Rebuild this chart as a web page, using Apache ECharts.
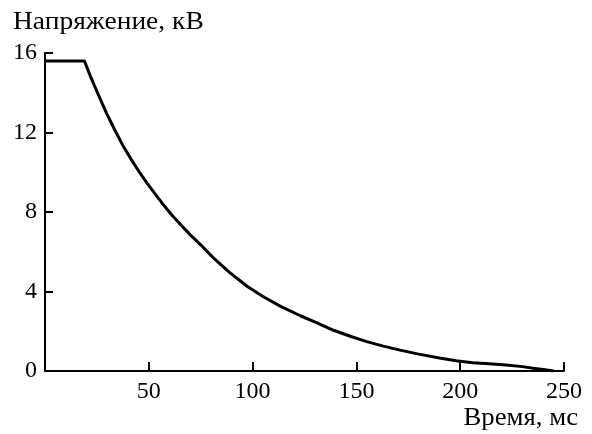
<!DOCTYPE html>
<html>
<head>
<meta charset="utf-8">
<script src="https://cdn.jsdelivr.net/npm/echarts@6/dist/echarts.min.js"></script>
<style>
html,body{margin:0;padding:0;background:#fff;}
#chart{width:592px;height:434px;}
</style>
</head>
<body>
<div id="chart"></div>
<script>
// Time, ms
var times = [0, 19, 22, 25.5, 29.5, 33.5, 37.5, 41.5, 45.5, 49.5, 53.5, 57.5, 61.5, 65.5, 70, 75, 81.5, 89, 97.5, 105, 113.5, 123, 131, 139, 147, 155, 163, 171, 180, 190, 198, 206, 214, 222, 230, 235, 240, 245];
// Voltage, kV
var volts = [15.6, 15.6, 14.8, 13.95, 13.0, 12.15, 11.35, 10.65, 10.0, 9.4, 8.85, 8.3, 7.8, 7.35, 6.85, 6.35, 5.65, 4.95, 4.25, 3.75, 3.25, 2.78, 2.42, 2.05, 1.75, 1.48, 1.25, 1.05, 0.85, 0.65, 0.52, 0.42, 0.36, 0.3, 0.22, 0.14, 0.07, 0.0];
var xTicks = [0, 50, 100, 150, 200, 250];
var yTicks = [0, 4, 8, 12, 16];
var yTitle = 'Напряжение, кВ';
var xTitle = 'Время, мс';

var chart = echarts.init(document.getElementById('chart'));
var font = '"Liberation Serif", "Times New Roman", serif';
var data = times.map(function (t, i) { return [t, volts[i]]; });
chart.setOption({
  animation: false,
  backgroundColor: '#fff',
  grid: { left: 45, right: 28, top: 53, bottom: 63, containLabel: false },
  xAxis: {
    type: 'value', min: xTicks[0], max: xTicks[xTicks.length - 1], interval: 50,
    axisLine: { lineStyle: { color: '#000', width: 2 } },
    axisTick: { inside: true, length: 9, lineStyle: { color: '#000', width: 2 } },
    splitLine: { show: false },
    axisLabel: {
      color: '#000', fontFamily: font, fontSize: 24, margin: 9,
      formatter: function (v) { return v === 0 ? '' : String(v); }
    }
  },
  yAxis: {
    type: 'value', min: yTicks[0], max: yTicks[yTicks.length - 1], interval: 4,
    axisLine: { lineStyle: { color: '#000', width: 2 } },
    axisTick: { inside: true, length: 8, lineStyle: { color: '#000', width: 2 } },
    splitLine: { show: false },
    axisLabel: { color: '#000', fontFamily: font, fontSize: 24, margin: 8 }
  },
  graphic: [
    { type: 'text', x: 13, y: 22, scaleX: 1.1, style: { text: yTitle, fill: '#000', font: '25px ' + font, textAlign: 'left', textVerticalAlign: 'middle' } },
    { type: 'text', x: 578, y: 418.5, scaleX: 1.07, style: { text: xTitle, fill: '#000', font: '25px ' + font, textAlign: 'right', textVerticalAlign: 'middle' } }
  ],
  series: [{
    type: 'line', data: data, showSymbol: false, smooth: false,
    lineStyle: { color: '#000', width: 3 }
  }]
});
</script>
</body>
</html>
